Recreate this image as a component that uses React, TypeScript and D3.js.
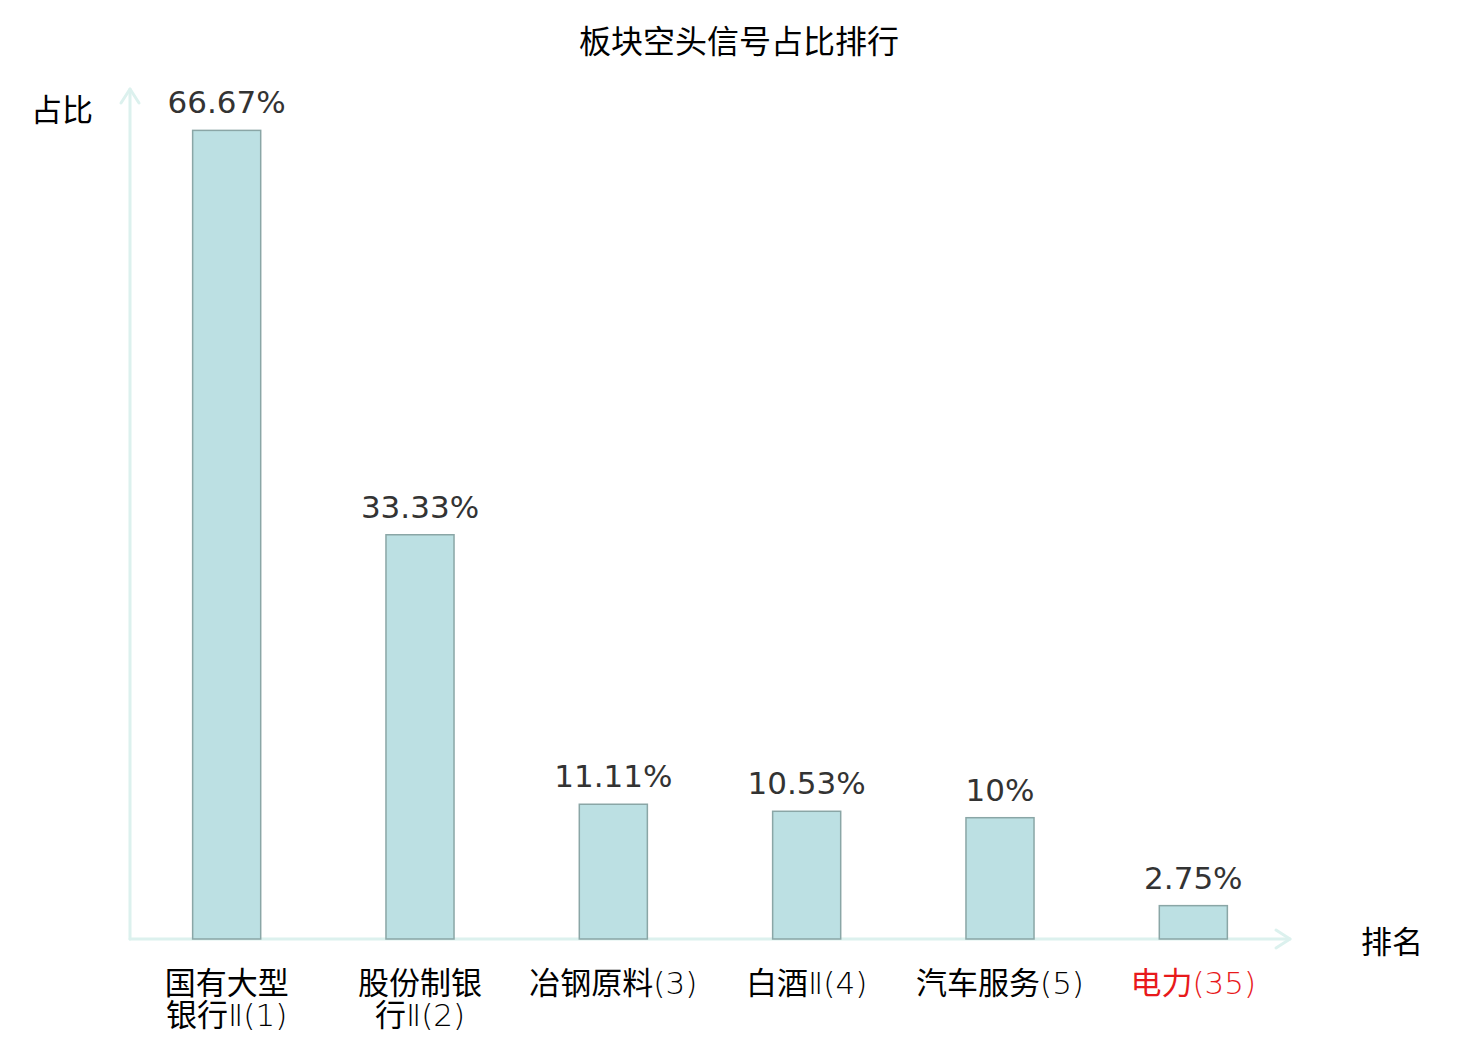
import { scaleBand, scaleLinear } from "d3";

const title = "板块空头信号占比排行";
const yAxisName = "占比";
const xAxisName = "排名";
const categories = ["国有大型银行Ⅱ(1)", "股份制银行Ⅱ(2)", "冶钢原料(3)", "白酒Ⅱ(4)", "汽车服务(5)", "电力(35)"];
const shares = [66.67, 33.33, 11.11, 10.53, 10, 2.75];
const valueLabels = ["66.67%", "33.33%", "11.11%", "10.53%", "10%", "2.75%"];
const highlighted = ["电力(35)"];

const W = 1480;
const H = 1040;
const left = 130;
const right = 1290;
const bottom = 939;
const top = 90;

const cjk = "'Noto Sans CJK SC', 'DejaVu Sans', sans-serif";
const latin = "'DejaVu Sans', 'Noto Sans CJK SC', sans-serif";

// long names break after 4 chars like the original
function wrap(name: string) {
  if (name.length <= 8) return [name];
  return [name.slice(0, 4), name.slice(4)];
}

// split into CJK runs and the rest, the rest is drawn thin
function runs(s: string) {
  return s.match(/[\u4e00-\u9fff]+|[^\u4e00-\u9fff]+/g) ?? [];
}

export default function App() {
  const x = scaleBand<string>()
    .domain(categories)
    .range([left, right])
    .paddingInner(0.648)
    .paddingOuter(0.324);

  const y = scaleLinear().domain([0, 70]).range([bottom, top]);

  const axisColor = "#dcf1ee";

  return (
    <div style={{ position: "absolute", left: 0, top: 0 }}>
      <svg width={W} height={H} viewBox={`0 0 ${W} ${H}`} style={{ display: "block", background: "#fff" }}>
        <text x={W / 2 - 1} y={53} textAnchor="middle" fontFamily={cjk} fontSize={32} fill="#000">
          {title}
        </text>

        {/* axes with open arrow heads */}
        <g stroke={axisColor} strokeWidth={3} fill="none" strokeLinecap="round" strokeLinejoin="round">
          <line x1={left} y1={y(0)} x2={left} y2={top - 1} />
          <polyline points={`${left - 9},${top + 13} ${left},${top - 1} ${left + 9},${top + 13}`} />
          <line x1={left} y1={y(0)} x2={right} y2={y(0)} />
          <polyline points={`${right - 14},${y(0) - 9} ${right},${y(0)} ${right - 14},${y(0) + 9}`} />
        </g>

        <text x={93} y={121} textAnchor="end" fontFamily={cjk} fontSize={31} fill="#000">
          {yAxisName}
        </text>
        <text x={1361} y={953} fontFamily={cjk} fontSize={31} fill="#000">
          {xAxisName}
        </text>

        {categories.map((c, i) => {
          const cx = (x(c) ?? 0) + x.bandwidth() / 2;
          return (
            <g key={c}>
              <rect
                x={x(c)}
                y={y(shares[i])}
                width={x.bandwidth()}
                height={y(0) - y(shares[i])}
                fill="#bce0e3"
                stroke="#8aa6a6"
                strokeWidth={1.5}
              />
              <text
                x={cx}
                y={y(shares[i]) - 17}
                textAnchor="middle"
                fontFamily={latin}
                fontSize={31}
                fill="#333"
              >
                {valueLabels[i]}
              </text>
              {wrap(c).map((line, k) => (
                <text
                  key={k}
                  x={cx}
                  y={994 + k * 32}
                  textAnchor="middle"
                  fontSize={31}
                  fill={highlighted.includes(c) ? "#e8191b" : "#000"}
                >
                  {runs(line).map((r, j) =>
                    /[\u4e00-\u9fff]/.test(r) ? (
                      <tspan key={j} fontFamily={cjk}>{r}</tspan>
                    ) : (
                      <tspan key={j} fontFamily={latin} fontWeight={200}>{r}</tspan>
                    )
                  )}
                </text>
              ))}
            </g>
          );
        })}
      </svg>
    </div>
  );
}
